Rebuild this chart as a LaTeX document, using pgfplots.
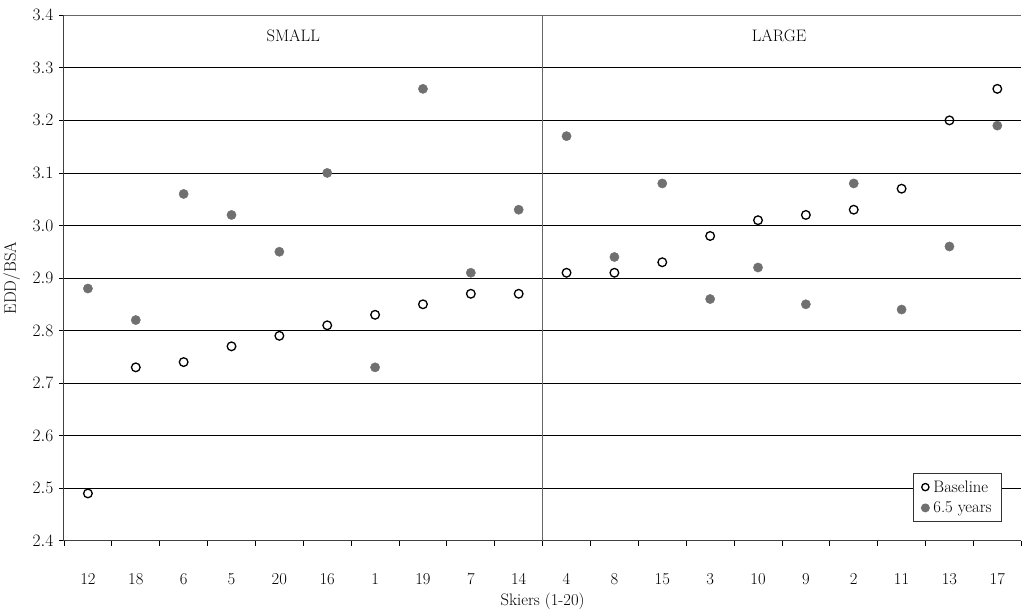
\documentclass[border=0pt]{standalone}
\usepackage{pgfplots}
\pgfplotsset{compat=1.18}
\definecolor{ptgray}{RGB}{112,112,112}
\newcommand\fs{\fontsize{16.5}{19}\selectfont}
\pgfplotsset{
  smalllegA/.style={legend image code/.code={\draw[##1, mark size=3.6pt] plot coordinates {(0.1cm,0cm)};}},
  smalllegB/.style={legend image code/.code={\draw[##1, mark size=4pt] plot coordinates {(0.1cm,0cm)};}},
}
\begin{document}
\begin{tikzpicture}
\begin{axis}[
  scale only axis,
  width=951pt, height=522pt,
  xmin=-0.5, xmax=19.5,
  ymin=2.4, ymax=3.4,
  axis x line*=bottom, axis y line*=left,
  axis line style={draw=black!75, line width=1pt},
  ytick={2.4,2.5,...,3.41},
  yticklabel style={xshift=-2pt, /pgf/number format/.cd, fixed, fixed zerofill, precision=1},
  xtick={-0.5,0.5,...,19.5},
  x tick label as interval,
  xticklabels={12,18,6,5,20,16,1,19,7,14,4,8,15,3,10,9,2,11,13,17},
  tick align=outside,
  major tick length=5pt,
  tick style={draw=black, line width=0.8pt},
  ymajorgrids, xmajorgrids=false,
  grid style={draw=black, line width=0.8pt},
  tick label style={font=\fs},
  xticklabel style={yshift=-24pt},
  every axis x label/.style={at={(rel axis cs:0.5,0)}, anchor=center, yshift=-60pt, font=\fs},
  every axis y label/.style={at={(rel axis cs:0,0.5)}, anchor=center, xshift=-52pt, rotate=90, font=\fs},
  xlabel={Skiers (1-20)},
  ylabel={EDD/BSA},
  legend style={font=\fs, at={(rel axis cs:1,0)}, anchor=south east, xshift=-19pt, yshift=19pt,
    draw=black!80, line width=0.8pt, row sep=4pt, column sep=2pt, inner xsep=8pt, inner ysep=5pt, cells={anchor=west}},
  legend cell align=left,
  clip=false,
]
\addplot[only marks, mark=o, mark size=4.3pt, mark options={draw=black, line width=1.3pt, fill=white}, smalllegA] coordinates {
(0,2.49) (1,2.73) (2,2.74) (3,2.77) (4,2.79) (5,2.81) (6,2.83) (7,2.85) (8,2.87) (9,2.87)
(10,2.91) (11,2.91) (12,2.93) (13,2.98) (14,3.01) (15,3.02) (16,3.03) (17,3.07) (18,3.20) (19,3.26)};
\addlegendentry{Baseline}
\addplot[only marks, mark=*, mark size=4.6pt, mark options={draw=ptgray, fill=ptgray}, smalllegB] coordinates {
(0,2.88) (1,2.82) (2,3.06) (3,3.02) (4,2.95) (5,3.10) (6,2.73) (7,3.26) (8,2.91) (9,3.03)
(10,3.17) (11,2.94) (12,3.08) (13,2.86) (14,2.92) (15,2.85) (16,3.08) (17,2.84) (18,2.96) (19,3.19)};
\addlegendentry{6.5 years}
\addplot[draw=black!60, line width=1.2pt, forget plot] coordinates {(9.5,2.4) (9.5,3.4)};
\addplot[draw=black!60, line width=1.5pt, forget plot] coordinates {(-0.5,3.4) (19.5,3.4)};
\node[font=\fs] at (axis cs:4.29,3.362) {SMALL};
\node[font=\fs] at (axis cs:14.44,3.362) {LARGE};
\node[anchor=south, inner sep=0pt, minimum height=15pt, minimum width=1pt] at (rel axis cs:0,1) {};
\end{axis}
\end{tikzpicture}
\end{document}
